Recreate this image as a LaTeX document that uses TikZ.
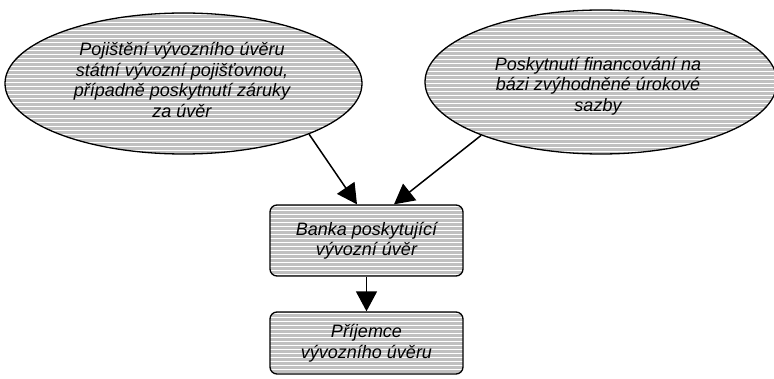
\documentclass[tikz,border=0pt]{standalone}
\usepackage{fontspec}
\setmainfont{Liberation Sans}
\usetikzlibrary{shapes.geometric,arrows.meta}
\definecolor{stripegray}{RGB}{192,192,192}
\begin{document}
\begin{tikzpicture}[x=1pt,y=-1pt,
  striped/.style={draw=black,line width=1.3pt,fill=stripegray,
    path picture={\foreach \k in {0,...,45}{
      \draw[white,line width=1pt]
        ([yshift=-\k*4pt-1.5pt]path picture bounding box.north west) --
        ([yshift=-\k*4pt-1.5pt]path picture bounding box.north east);}}},
  ell/.style={striped,ellipse,inner sep=0pt},
  boxx/.style={striped,rectangle,rounded corners=7pt,minimum width=193pt,inner sep=0pt},
  txt/.style={font=\fontsize{18}{20.5}\selectfont\itshape,align=center,inner sep=0pt},
  arr/.style={line width=1.5pt,-{Triangle[length=20pt,width=21pt]}}]
\useasboundingbox (0,0) rectangle (774,379);
\node[ell,minimum width=357pt,minimum height=141pt] (L) at (183.5,83.5) {};
\node[ell,minimum width=352pt,minimum height=144pt] (R) at (601,82) {};
\node[boxx,minimum height=71pt] (B1) at (366.5,240.5) {};
\node[boxx,minimum height=62pt] (B2) at (366.5,343) {};
\node[txt] (Lt) at (182,80) {Pojištění vývozního úvěru\\státní vývozní pojišťovnou,\\případně poskytnutí záruky\\za úvěr};
\node[txt] (Rt) at (598,86) {Poskytnutí financování na\\bázi zvýhodněné úrokové\\sazby};
\node[txt] (B1t) at (B1) {Banka poskytující\\vývozní úvěr};
\node[txt] (B2t) at (B2) {Příjemce\\vývozního úvěru};
\draw[arr] (L.-22.6) -- ([xshift=-9.5pt]B1.north);
\draw[arr] (R.-156) -- ([xshift=27.5pt]B1.north);
\draw[arr] (B1.south) -- (B2.north);
\end{tikzpicture}
\end{document}
